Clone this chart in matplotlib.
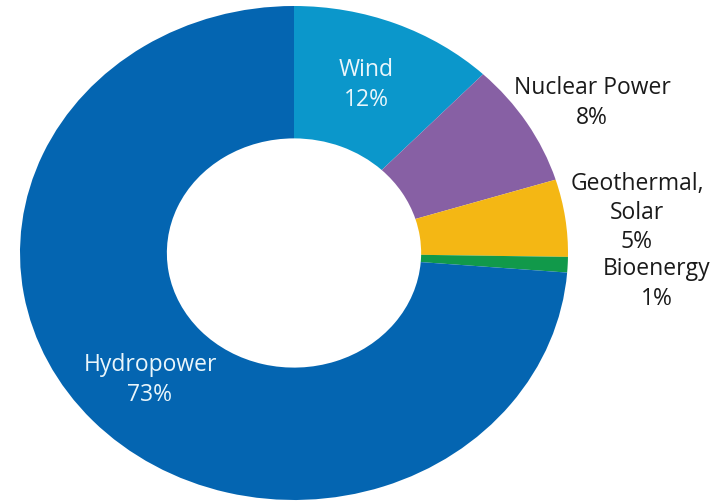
import matplotlib.pyplot as plt

# Data (clockwise from the top)
labels = ['Wind', 'Nuclear Power', 'Geothermal,\nSolar', 'Bioenergy', 'Hydropower']
shares = [12, 8, 5, 1, 73]
colors = ['#0b97cb', '#8760a4', '#f4b714', '#11994a', '#0465b1']

plt.rcParams['font.family'] = ['Open Sans', 'DejaVu Sans']

fig = plt.figure(figsize=(7.28, 5.02), dpi=100)
ax = fig.add_axes([0, 0, 1, 1])

ax.pie(shares, colors=colors, startangle=90, counterclock=False,
       radius=1.0, wedgeprops=dict(width=0.536, linewidth=0))

# Pixel layout: centre at (294, 254), rx 274 px, ry 247 px
ax.set_xlim(-294 / 274, (728 - 294) / 274)
ax.set_ylim(-(502 - 254) / 247, 254 / 247)
ax.set_aspect('auto')
ax.axis('off')


def px(x, y):
    return x / 728, 1 - y / 502


fs = 16.5
ls = 1.3
inside = '#eaf6fb'
dark = '#1a1a1a'
ax.text(*px(366, 85), f'{labels[0]}\n{shares[0]}%', transform=ax.transAxes,
        ha='center', va='center', color=inside, fontsize=fs, linespacing=ls)
ax.text(*px(150, 380), f'{labels[4]}\n{shares[4]}%', transform=ax.transAxes,
        ha='center', va='center', color=inside, fontsize=fs, linespacing=ls)
ax.text(*px(592, 103), f'{labels[1]}\n{shares[1]}%', transform=ax.transAxes,
        ha='center', va='center', color=dark, fontsize=fs, linespacing=ls)
ax.text(*px(637, 213), f'{labels[2]}\n{shares[2]}%', transform=ax.transAxes,
        ha='center', va='center', color=dark, fontsize=fs, linespacing=ls)
ax.text(*px(657, 284), f'{labels[3]}\n{shares[3]}%', transform=ax.transAxes,
        ha='center', va='center', color=dark, fontsize=fs, linespacing=ls)

fig.savefig('out.png', dpi=100)
